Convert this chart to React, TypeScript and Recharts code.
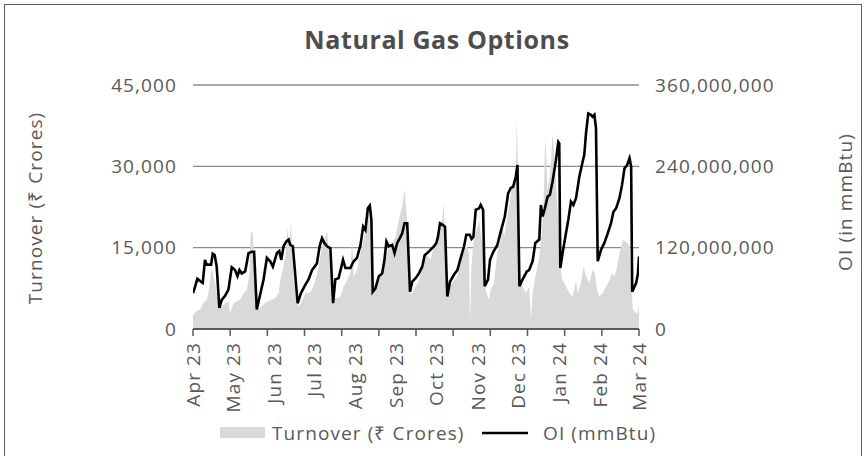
import React from 'react';
import { ComposedChart, Area, Line, XAxis, YAxis, CartesianGrid } from 'recharts';

// x values are days counted from 1 Apr 2023
const monthDays = [0, 30, 61, 91, 122, 153, 183, 214, 244, 275, 306, 335];
const monthLabels = ['Apr 23', 'May 23', 'Jun 23', 'Jul 23', 'Aug 23', 'Sep 23', 'Oct 23', 'Nov 23', 'Dec 23', 'Jan 24', 'Feb 24', 'Mar 24'];

const turnoverDays = [
  0, 2.8, 5.3, 7.8, 10.3, 11.5, 12.8, 14.1, 15.3, 16.6, 17.8, 19.8, 21.6, 24.1, 26.6, 27.9, 30.4, 32.9, 35.4, 37.9,
  40.4, 42.4, 43.4, 44.9, 45.9, 47.4, 49.2, 51.7, 54.2, 56.7, 59.2, 61.7, 64.3, 65.5, 68, 70, 71, 72, 73.5, 74.5,
  75.6, 77.6, 79.3, 81.8, 84.3, 86.8, 89.4, 91.9, 94.4, 96.9, 99.4, 100.7, 101.9, 103.7, 105.7, 108.2, 110.7, 113.2,
  115.7, 118.2, 119.5, 120.7, 123.2, 125.8, 128.3, 130.8, 132, 133.3, 135.3, 137, 139.6, 142.1, 144.6, 147.1, 149.6,
  152.1, 154.6, 157.1, 158.9, 160.4, 162.1, 163.4, 164.7, 167.2, 169.7, 172.2, 174, 176, 178.5, 179.7, 182.2, 184,
  185.5, 187.3, 188, 189.3, 190.5, 192.3, 193.5, 196, 198.6, 201.1, 203.6, 206.1, 207.3, 208.1, 209.1, 211.1, 213.1,
  214.9, 216.1, 217.9, 219.1, 220.6, 222.4, 223.6, 226.1, 228.6, 231.2, 232.4, 233.7, 235.7, 237.5, 239.2, 241.2,
  242.5, 243.2, 244.2, 245.2, 247.5, 250, 252.5, 253.8, 255.1, 257.6, 260.1, 261.3, 262.6, 263.8, 264.6, 265.6, 266.3,
  267.6, 268.8, 270.1, 271.3, 272.6, 274.4, 275.9, 277.6, 280.1, 282.7, 285.2, 287.7, 288.9, 291.4, 293.4, 295.2,
  297.7, 300.2, 302, 303.5, 305.2, 307.8, 310.3, 312.8, 314.6, 316.6, 318.6, 320.4, 321.6, 322.9, 324.6, 326.6,
  327.9, 329.1, 330.4, 332.9, 334.2, 335,
];
const turnoverCr = [
  2600, 3300, 3600, 4800, 5400, 6600, 9000, 11500, 9700, 8500, 6600, 3600, 4200, 4800, 5100, 2900, 4800, 5100, 5400, 6600,
  7200, 10300, 18000, 17700, 11500, 6000, 3600, 4200, 4800, 5100, 5400, 5700, 6600, 9000, 11500, 14600, 19000, 14000, 19800, 15000,
  9000, 5400, 4200, 5100, 6600, 6600, 7200, 9000, 11500, 15200, 17000, 18000, 14600, 9000, 5700, 5700, 6000, 7900,
  9000, 10300, 17000, 9700, 10900, 14000, 16500, 20000, 22600, 17000, 6600, 7900, 9000, 11500, 12800, 15200, 15800,
  17000, 20000, 22600, 25700, 21400, 12800, 6600, 6600, 7900, 9000, 11500, 14000, 13400, 12800, 14000, 15800, 17700,
  19500, 20000, 23200, 18300, 11500, 7900, 7900, 9000, 9700, 13400, 15200, 15200, 14000, 800, 11500, 17000, 18300,
  20000, 17700, 15200, 7900, 6600, 5400, 7200, 8500, 14000, 16500, 19500, 17000, 20000, 22600, 25700, 27500,
  30000, 38600, 28500, 9000, 7900, 6600, 7900, 1700, 6600, 10300, 13400, 16500, 19500, 27500, 35500, 30600, 25700,
  27500, 30600, 36100, 31800, 27500, 20000, 11500, 9000, 7900, 6600, 6000, 9000, 6600, 8500, 11500, 9700,
  8500, 10900, 10300, 7200, 6000, 6600, 7900, 9000, 10300, 9700, 11500, 14000, 15200, 16500, 16200, 15800,
  15200, 9000, 3600, 2900, 2900, 5400,
];

const oiDays = [
  0, 1.5, 3.3, 5.8, 7.3, 9, 10.3, 13.6, 14.8, 16.3, 17.8, 19.8, 21.6, 24.1, 26.6, 29.1, 31.6, 33.4, 34.9, 36.6, 39.2,
  41.7, 44.2, 45.9, 47.9, 49.9, 53, 55.5, 58, 60, 63, 64.8, 66.3, 68, 70, 71.8, 73, 75, 78.6, 81.1, 84.3, 86.8, 89.4,
  91.4, 93.1, 95.1, 96.9, 98.6, 100.7, 103.2, 105.2, 106.9, 109.4, 112.7, 114.5, 118.2, 120.7, 123.2, 125.8, 127.8,
  129.5, 131.3, 132.8, 134, 135, 137, 139.6, 142.1, 143.8, 145.3, 147.1, 149.6, 151.4, 153.4, 155.4, 157.1, 158.9,
  160.9, 163, 164.7, 167.2, 169.7, 172.2, 174, 176, 178.5, 181, 182.8, 184, 185.5, 187.3, 189.3, 191, 193.1, 196,
  198.6, 201.1, 203.6, 205.3, 207.8, 209.3, 210.6, 212.4, 214.9, 216.1, 217.9, 219.1, 221.6, 223.1, 225.6, 228.6,
  231.2, 234.2, 236.7, 238.7, 240.5, 242.5, 243.7, 245.2, 247.5, 250.8, 252.5, 255.1, 257.1, 260.1, 261.3, 262.6,
  264.3, 266.3, 268.1, 270.1, 272.6, 274.4, 275.1, 275.9, 277.6, 280.1, 281.9, 283.9, 285.7, 287.7, 290.2, 292.7,
  293.9, 295.2, 296.9, 298.9, 300.2, 301.5, 302.7, 304, 306.5, 309, 311.5, 314, 315.8, 317.8, 320.3, 322.3, 324.1,
  326.1, 327.9, 329.1, 329.9, 332.9, 334.2, 335,
];
// million mmBtu
const oiMillions = [
  53, 62, 74, 70, 68, 102, 95, 95, 111, 109, 92, 31, 43, 49, 58, 91, 87, 78, 87, 82, 85,
  112, 114, 114, 29, 46, 73, 105, 100, 92, 112, 115, 102, 122, 129, 132, 124, 122, 38, 53, 65, 73, 87,
  92, 97, 122, 134, 127, 122, 119, 38, 73, 75, 102, 90, 90, 100, 105, 124, 151,
  146, 178, 182, 161, 55, 60, 78, 82, 102, 129, 122, 124, 112, 127, 134, 141, 156,
  156, 55, 70, 75, 82, 92, 109, 112, 117, 122, 127, 136, 156, 154, 151, 48, 70, 80,
  87, 105, 122, 139, 139, 133, 136, 176, 178, 183, 176, 63, 73, 102, 114, 124,
  144, 166, 200, 208, 210, 225, 242, 63, 73, 85, 87, 100, 127, 132, 183, 166,
  178, 195, 198, 218, 249, 276, 274, 90, 112, 141, 161, 188, 183, 193, 225, 247,
  257, 289, 318, 316, 313, 316, 296, 100, 117, 127, 141, 156, 173, 178, 193, 213, 237,
  242, 252, 240, 55, 68, 82, 107,
];

const leftTicks = [0, 15000, 30000, 45000];
const rightTicks = [0, 120000000, 240000000, 360000000];

const turnoverData = turnoverDays.map((day, i) => ({ day, turnover: turnoverCr[i] }));
const oiData = oiDays.map((day, i) => ({ day, oi: oiMillions[i] * 1000000 }));

// Excel puts the tick marks at 13 even steps, the labels on month starts
const markTicks = Array.from({ length: 13 }, (_, i) => (i * 335) / 12);
const xTicks = Array.from(new Set([...markTicks, ...monthDays])).sort((a, b) => a - b);

const FONT = '"Open Sans", sans-serif';
const GREY = '#595959';
const fmt = (v: number) => v.toLocaleString('en-US');

function MonthTick(props: any) {
  const { x, y, payload } = props;
  const v = payload.value as number;
  const idx = monthDays.indexOf(v);
  const isMark = markTicks.some((m) => Math.abs(m - v) < 1e-6);
  return (
    <g transform={`translate(${x},${y})`}>
      {isMark && <line x1={0} x2={0} y1={0} y2={7} stroke={GREY} strokeWidth={1.5} />}
      {idx >= 0 && (
        <text
          transform="rotate(-90)"
          x={-13}
          y={0}
          dy="0.35em"
          textAnchor="end"
          fill={GREY}
          fontSize={19}
          fontFamily={FONT}
          letterSpacing={1.1}
        >
          {monthLabels[idx]}
        </text>
      )}
    </g>
  );
}

export default function App() {
  const tickStyle = { fill: GREY, fontSize: 19, fontFamily: FONT, letterSpacing: 1.1 };
  return (
    <div style={{ position: 'absolute', left: 0, top: 0, width: 865, height: 456, background: '#fff', overflow: 'hidden' }}>
      <div
        style={{
          position: 'absolute',
          left: 4,
          top: 4,
          width: 858,
          height: 470,
          border: '1.5px solid #606060',
          boxSizing: 'border-box',
        }}
      />
      <ComposedChart width={865} height={456} margin={{ top: 85, right: 76, bottom: 67, left: 100 }}>
        <CartesianGrid yAxisId="left" vertical={false} stroke="#8c8c8c" strokeWidth={1.3} />
        <XAxis
          dataKey="day"
          type="number"
          domain={[0, 335]}
          ticks={xTicks}
          interval={0}
          tick={<MonthTick />}
          tickLine={false}
          tickSize={0}
          tickMargin={0}
          height={60}
          axisLine={{ stroke: GREY, strokeWidth: 2 }}
          allowDataOverflow
        />
        <YAxis
          yAxisId="left"
          domain={[0, 45000]}
          ticks={leftTicks}
          tickFormatter={fmt}
          axisLine={false}
          tickLine={false}
          tickSize={0}
          tickMargin={16}
          width={93}
          tick={tickStyle}
        />
        <YAxis
          yAxisId="right"
          orientation="right"
          domain={[0, 360000000]}
          ticks={rightTicks}
          tickFormatter={fmt}
          axisLine={false}
          tickLine={false}
          tickSize={0}
          tickMargin={16}
          width={150}
          tick={{ ...tickStyle, textAnchor: 'start' }}
        />
        <Area
          yAxisId="left"
          data={turnoverData}
          dataKey="turnover"
          type="linear"
          fill="#d9d9d9"
          fillOpacity={1}
          stroke="none"
          isAnimationActive={false}
        />
        <Line
          yAxisId="right"
          data={oiData}
          dataKey="oi"
          type="linear"
          stroke="#000"
          strokeWidth={2.6}
          dot={false}
          isAnimationActive={false}
        />
      </ComposedChart>
      <svg width={865} height={456} style={{ position: 'absolute', left: 0, top: 0, pointerEvents: 'none' }}>
        <text x={437} y={49} textAnchor="middle" fontFamily={FONT} fontWeight={700} fontSize={25} letterSpacing={0.6} fill="#4d4d4d">
          Natural Gas Options
        </text>
        <text
          transform="translate(35,208) rotate(-90)"
          textAnchor="middle"
          dy="0.35em"
          fontFamily={FONT}
          fontSize={19}
          letterSpacing={1.1}
          fill={GREY}
        >
          Turnover (₹ Crores)
        </text>
        <text
          transform="translate(845,202) rotate(-90)"
          textAnchor="middle"
          dy="0.35em"
          fontFamily={FONT}
          fontSize={19}
          letterSpacing={1.1}
          fill={GREY}
        >
          OI (in mmBtu)
        </text>
        <rect x={220} y={427} width={45} height={11} fill="#d9d9d9" />
        <text x={272} y={440} fontFamily={FONT} fontSize={19} letterSpacing={1.1} fill={GREY}>
          Turnover (₹ Crores)
        </text>
        <line x1={482} x2={528} y1={433} y2={433} stroke="#000" strokeWidth={2.6} />
        <text x={543} y={440} fontFamily={FONT} fontSize={19} letterSpacing={1.1} fill={GREY}>
          OI (mmBtu)
        </text>
      </svg>
    </div>
  );
}
